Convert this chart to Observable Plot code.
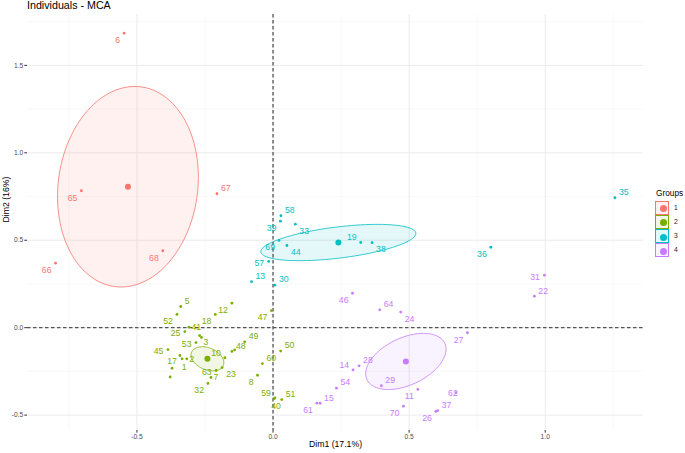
<!DOCTYPE html>
<html><head><meta charset="utf-8">
<script src="https://cdn.jsdelivr.net/npm/d3@7"></script>
<script src="https://cdn.jsdelivr.net/npm/@observablehq/plot@0.6"></script>
<style>
body{margin:0;background:#fff;font-family:"Liberation Sans",Arial,sans-serif;}
#wrap{position:relative;width:685px;height:453px;overflow:hidden;}
#chart{position:absolute;left:0;top:0;}
#title{position:absolute;left:27px;top:0;font-size:10.7px;line-height:11px;color:#000;white-space:nowrap;}
#legend{position:absolute;left:655px;top:188px;}
#legend .lt{font-size:8.3px;line-height:10px;color:#000;margin-left:1px;margin-bottom:2.7px;white-space:nowrap;}
#legend .row{position:relative;height:14px;margin-bottom:0.2px;}
#legend .key{position:absolute;left:0;top:0;width:12px;height:12px;border:1px solid;}
#legend .dot{position:absolute;left:3.5px;top:3.5px;width:7px;height:7px;border-radius:50%;}
#legend .lab{position:absolute;left:19px;top:2px;font-size:6.7px;line-height:10px;color:#1a1a1a;}
</style></head><body>
<div id="wrap"><div id="chart"></div><div id="title">Individuals - MCA</div><div id="legend"></div></div>
<script>
// ---- data ----
const groups = ["1", "2", "3", "4"];
const groupColors = ["#F8766D", "#7CAE00", "#00BFC4", "#C77CFF"];

const indId = [
  "6","65","67","68","66",
  "5","12","52","18","47","41","25","3","","53","49","45","48","","10","2","1","","17","","63","23","7","32","60","8","50","59","51","40",
  "58","39","33","69","44","19","38","57","13","30","36","35",
  "46","64","24","27","28","14","29","54","11","62","15","61","37","26","70","31","22"
];
const indGroup = [
  "1","1","1","1","1",
  "2","2","2","2","2","2","2","2","2","2","2","2","2","2","2","2","2","2","2","2","2","2","2","2","2","2","2","2","2","2",
  "3","3","3","3","3","3","3","3","3","3","3","3",
  "4","4","4","4","4","4","4","4","4","4","4","4","4","4","4","4","4"
];
const indDim1 = [
  -0.547,-0.704,-0.206,-0.405,-0.799,
  -0.339,-0.151,-0.353,-0.212,-0.006,-0.309,-0.324,-0.270,-0.263,-0.283,-0.104,-0.386,-0.151,-0.141,-0.177,-0.317,-0.334,-0.342,-0.371,-0.378,-0.209,-0.187,-0.228,-0.239,-0.039,-0.057,0.028,0.007,0.032,0.004,
  0.029,0.027,0.082,0.022,0.051,0.322,0.364,-0.016,-0.079,0.007,0.800,1.256,
  0.292,0.392,0.469,0.714,0.316,0.294,0.398,0.233,0.532,0.672,0.173,0.161,0.605,0.598,0.479,0.997,0.960
];
const indDim2 = [
  1.684,0.783,0.766,0.440,0.369,
  0.121,0.140,0.076,0.076,0.098,0.003,-0.022,-0.045,-0.056,-0.085,-0.081,-0.125,-0.136,-0.127,-0.172,-0.178,-0.178,-0.159,-0.232,-0.282,-0.245,-0.228,-0.285,-0.319,-0.205,-0.272,-0.134,-0.401,-0.411,-0.406,
  0.640,0.609,0.592,0.499,0.470,0.487,0.486,0.379,0.263,0.243,0.460,0.743,
  0.197,0.102,0.089,-0.029,-0.218,-0.241,-0.332,-0.346,-0.353,-0.371,-0.432,-0.432,-0.474,-0.479,-0.449,0.300,0.180
];
// group mean points
const centerDim1 = [-0.533, -0.241, 0.240, 0.488];
const centerDim2 = [0.806, -0.178, 0.487, -0.193];

const xTicks = [-0.5, 0, 0.5, 1.0];
const xTickLabels = ["-0.5", "0.0", "0.5", "1.0"];
const yTicks = [-0.5, 0, 0.5, 1.0, 1.5];
const yTickLabels = ["-0.5", "0.0", "0.5", "1.0", "1.5"];
const xMinor = [-0.75, -0.25, 0.25, 0.75, 1.25];
const yMinor = [-0.25, 0.25, 0.75, 1.25, 1.75];

// ---- layout (label placement, like ggrepel) ----
const labelDir = {
  "6":"sw","65":"sw","67":"ne","68":"sw","66":"sw",
  "5":"ne","12":"sw","52":"sw","18":"sw","47":"sw","41":"e","25":"w","3":"se","53":"w","49":"ne","45":"w","48":"ne",
  "10":"nw","2":"e","1":"s","17":"n","63":"w","23":"se","7":"e","32":"sw","60":"ne","8":"sw","50":"ne","59":"nw","51":"ne","40":"s",
  "58":"ne","39":"sw","33":"se","69":"sw","44":"se","19":"nw","38":"se","57":"w","13":"ne","30":"ne","36":"sw","35":"ne",
  "46":"sw","64":"ne","24":"se","27":"sw","28":"ne","14":"nw","29":"ne","54":"ne","11":"sw","62":"o","15":"ne","61":"sw","37":"ne","26":"sw","70":"sw","31":"w","22":"ne"
};
const dirStyle = {
  ne:{textAnchor:"start", dx:4, dy:-5.5},
  se:{textAnchor:"start", dx:4, dy:7},
  sw:{textAnchor:"end", dx:-4, dy:7},
  nw:{textAnchor:"end", dx:-4, dy:-5},
  w:{textAnchor:"end", dx:-4.5, dy:1.5},
  e:{textAnchor:"start", dx:2.5, dy:0},
  n:{textAnchor:"middle", dx:0, dy:-7},
  s:{textAnchor:"middle", dx:2, dy:8},
  o:{textAnchor:"middle", dx:-3, dy:1}
};

// ---- build tables ----
const individuals = indId.map((id, i) => ({id, group: indGroup[i], dim1: indDim1[i], dim2: indDim2[i]}));
const centers = groups.map((g, i) => ({group: g, dim1: centerDim1[i], dim2: centerDim2[i]}));

// 95% confidence ellipse of the group mean (cov / n), as in ggpubr stat_conf_ellipse
const tChi = Math.sqrt(5.991464547107979);
function confEllipse(g, gi) {
  const pts = individuals.filter(d => d.group === g);
  const n = pts.length;
  const mx = d3.mean(pts, d => d.dim1), my = d3.mean(pts, d => d.dim2);
  let sxx = 0, syy = 0, sxy = 0;
  for (const p of pts) { sxx += (p.dim1 - mx) ** 2; syy += (p.dim2 - my) ** 2; sxy += (p.dim1 - mx) * (p.dim2 - my); }
  sxx /= (n - 1) * n; syy /= (n - 1) * n; sxy /= (n - 1) * n;
  const sx = Math.sqrt(sxx), sy = Math.sqrt(syy);
  const r = Math.max(-1, Math.min(1, sxy / (sx * sy)));
  const dd = Math.acos(r);
  const cx = centerDim1[gi], cy = centerDim2[gi];
  return d3.range(101).map(k => {
    const a = 2 * Math.PI * k / 100;
    return {x: cx + tChi * sx * Math.cos(a + dd / 2), y: cy + tChi * sy * Math.cos(a - dd / 2)};
  });
}

const xLab = new Map(xTicks.map((t, i) => [t, xTickLabels[i]]));
const yLab = new Map(yTicks.map((t, i) => [t, yTickLabels[i]]));

const marks = [
  Plot.gridX(xMinor, {stroke: "#F3F3F3", strokeOpacity: 1, strokeWidth: 0.6}),
  Plot.gridY(yMinor, {stroke: "#F3F3F3", strokeOpacity: 1, strokeWidth: 0.6}),
  Plot.gridX(xTicks, {stroke: "#EBEBEB", strokeOpacity: 1, strokeWidth: 1}),
  Plot.gridY(yTicks, {stroke: "#EBEBEB", strokeOpacity: 1, strokeWidth: 1}),
];
groups.forEach((g, gi) => {
  marks.push(Plot.line(confEllipse(g, gi), {x: "x", y: "y", stroke: groupColors[gi], fill: groupColors[gi], fillOpacity: 0.1, strokeWidth: 0.8}));
});
marks.push(
  Plot.ruleX([0], {stroke: "#555", strokeWidth: 1.3, strokeDasharray: "3.5,2.5"}),
  Plot.ruleY([0], {stroke: "#555", strokeWidth: 1.3, strokeDasharray: "3.5,2.5"}),
  Plot.dot(individuals, {x: "dim1", y: "dim2", fill: "group", r: 1.4}),
  Plot.dot(centers, {x: "dim1", y: "dim2", fill: "group", r: 3})
);
for (const [k, st] of Object.entries(dirStyle)) {
  const sub = individuals.filter(d => d.id && labelDir[d.id] === k);
  if (sub.length) marks.push(Plot.text(sub, {x: "dim1", y: "dim2", text: "id", fill: "group", fontSize: 8.7, lineAnchor: "middle", ...st}));
}
marks.push(
  Plot.axisX(xTicks, {tickSize: 2.7, tickPadding: 1.5, tickFormat: d => xLab.get(d), fontSize: 6.7, fill: "#4D4D4D", stroke: "#333", label: null}),
  Plot.axisY(yTicks, {tickSize: 2.7, tickPadding: 1.5, tickFormat: d => yLab.get(d), fontSize: 6.7, fill: "#4D4D4D", stroke: "#333", label: null}),
  Plot.text(["Dim1 (17.1%)"], {text: d => d, frameAnchor: "bottom", dy: 16, fontSize: 8.7, fill: "#000"}),
  Plot.text(["Dim2 (16%)"], {text: d => d, frameAnchor: "left", rotate: -90, dx: -21, fontSize: 8.7, fill: "#000"})
);

const chart = Plot.plot({
  width: 685, height: 453,
  marginTop: 14, marginRight: 42, marginBottom: 23, marginLeft: 27,
  x: {domain: [-0.902, 1.361], label: null},
  y: {domain: [-0.588, 1.791], label: null},
  color: {domain: groups, range: groupColors},
  style: {fontFamily: '"Liberation Sans", Arial, sans-serif', fontSize: "8.7px", background: "transparent", overflow: "visible"},
  marks
});
document.getElementById("chart").appendChild(chart);

// legend
const leg = document.getElementById("legend");
const lt = document.createElement("div"); lt.className = "lt"; lt.textContent = "Groups"; leg.appendChild(lt);
groups.forEach((g, i) => {
  const row = document.createElement("div"); row.className = "row";
  const key = document.createElement("div"); key.className = "key";
  const c = d3.color(groupColors[i]);
  key.style.borderColor = groupColors[i];
  key.style.background = c.copy({opacity: 0.1}).formatRgb();
  const dot = document.createElement("div"); dot.className = "dot"; dot.style.background = groupColors[i];
  key.appendChild(dot);
  const lab = document.createElement("div"); lab.className = "lab"; lab.textContent = g;
  row.appendChild(key); row.appendChild(lab);
  leg.appendChild(row);
});
</script>
</body></html>
